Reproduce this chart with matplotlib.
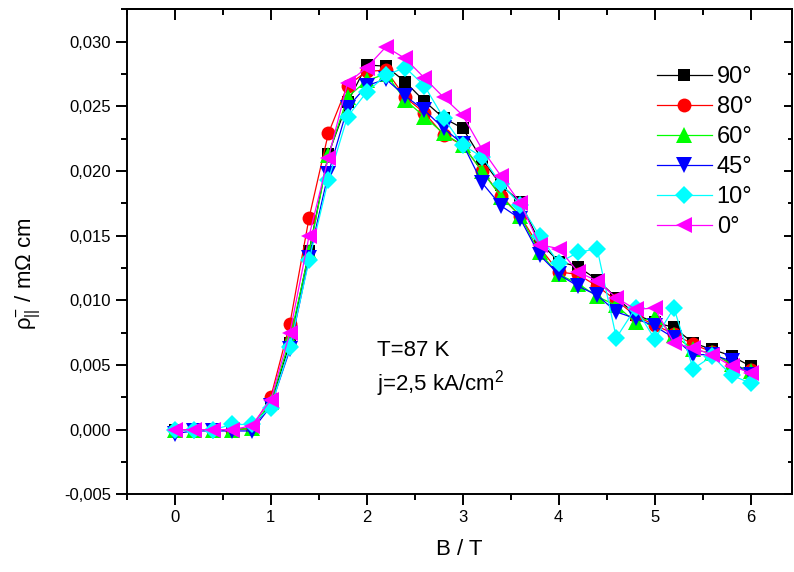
import matplotlib
matplotlib.use("Agg")
import matplotlib.pyplot as plt
from matplotlib.ticker import FuncFormatter, MultipleLocator

plt.rcParams['font.family'] = ['Liberation Sans', 'DejaVu Sans']
plt.rcParams['mathtext.fontset'] = 'custom'
plt.rcParams['mathtext.rm'] = 'Liberation Sans'
plt.rcParams['mathtext.it'] = 'Liberation Sans:italic'

B = [0.0, 0.2, 0.4, 0.6, 0.8, 1.0, 1.2, 1.4, 1.6, 1.8, 2.0, 2.2, 2.4, 2.6, 2.8, 3.0,
     3.2, 3.4, 3.6, 3.8, 4.0, 4.2, 4.4, 4.6, 4.8, 5.0, 5.2, 5.4, 5.6, 5.8, 6.0]

rho_90 = [0.0, 0.0, 0.0, 0.0, 0.0001, 0.0020, 0.0067, 0.0138, 0.0213, 0.0253, 0.0282,
          0.0281, 0.0269, 0.0254, 0.0241, 0.0233, 0.0209, 0.0189, 0.0176, 0.0145, 0.0130,
          0.0126, 0.0116, 0.0102, 0.0089, 0.0083, 0.0079, 0.0067, 0.0062, 0.0057, 0.0049]
rho_80 = [0.0, 0.0, 0.0, 0.0, 0.0001, 0.0025, 0.0082, 0.0164, 0.0229, 0.0266, 0.0277,
          0.0278, 0.0257, 0.0245, 0.0228, 0.0220, 0.0200, 0.0181, 0.0165, 0.0141, 0.0122,
          0.0120, 0.0111, 0.0100, 0.0088, 0.0081, 0.0074, 0.0066, 0.0060, 0.0050, 0.0046]
rho_60 = [0.0, 0.0, 0.0, 0.0, 0.0001, 0.0021, 0.0070, 0.0137, 0.0212, 0.0257, 0.0270,
          0.0275, 0.0255, 0.0242, 0.0229, 0.0220, 0.0200, 0.0180, 0.0165, 0.0137, 0.0120,
          0.0113, 0.0103, 0.0096, 0.0083, 0.0087, 0.0073, 0.0062, 0.0059, 0.0051, 0.0045]
rho_45 = [-0.0003, -0.0001, -0.0001, -0.0001, -0.0001, 0.0018, 0.0062, 0.0133, 0.0198, 0.0249, 0.0266,
          0.0271, 0.0258, 0.0247, 0.0233, 0.0221, 0.0191, 0.0173, 0.0163, 0.0135, 0.0120,
          0.0111, 0.0104, 0.0091, 0.0086, 0.0080, 0.0071, 0.0058, 0.0058, 0.0053, 0.0042]
rho_10 = [0.0, 0.0, 0.0, 0.0004, 0.0004, 0.0017, 0.0064, 0.0131, 0.0193, 0.0242, 0.0261,
          0.0274, 0.0280, 0.0266, 0.0241, 0.0220, 0.0211, 0.0190, 0.0174, 0.0150, 0.0129,
          0.0137, 0.0140, 0.0071, 0.0094, 0.0070, 0.0094, 0.0047, 0.0057, 0.0042, 0.0036]
rho_0 = [0.0, 0.0, 0.0, 0.0, 0.0003, 0.0023, 0.0075, 0.0150, 0.0210, 0.0268, 0.0280,
         0.0296, 0.0287, 0.0272, 0.0257, 0.0243, 0.0217, 0.0196, 0.0175, 0.0143, 0.0140,
         0.0122, 0.0115, 0.0102, 0.0093, 0.0094, 0.0067, 0.0063, 0.0058, 0.0049, 0.0044]

labels = ['90°', '80°', '60°', '45°', '10°', '0°']
series = [rho_90, rho_80, rho_60, rho_45, rho_10, rho_0]
colors = ['#000000', '#ff0000', '#00ff00', '#0000ff', '#00ffff', '#ff00ff']
markers = ['s', 'o', '^', 'v', 'D', '<']
msizes = [9, 10, 11.5, 11.5, 8.8, 11.5]

fig = plt.figure(figsize=(7.94, 5.72), dpi=100)
ax = fig.add_axes([0.1596, 0.1358, 0.8379, 0.8479])

for y, lab, c, m, ms in zip(series, labels, colors, markers, msizes):
    ax.plot(B, y, color=c, marker=m, markersize=ms, markeredgewidth=0,
            linewidth=0.9, label=lab)

ax.set_xlim(-0.5, 6.43)
ax.set_ylim(-0.005, 0.0325)

ax.xaxis.set_major_locator(MultipleLocator(1))
ax.xaxis.set_minor_locator(MultipleLocator(0.5))
ax.yaxis.set_major_locator(MultipleLocator(0.005))
ax.yaxis.set_minor_locator(MultipleLocator(0.0025))

ax.xaxis.set_major_formatter(FuncFormatter(lambda v, p: f"{v:.0f}"))
ax.yaxis.set_major_formatter(FuncFormatter(lambda v, p: f"{v:.3f}".replace('.', ',').replace('-0,000', '0,000')))

ax.tick_params(axis='both', which='major', labelsize=12, width=1.4, length=8, direction='out')
ax.tick_params(axis='both', which='minor', width=1.4, length=4, direction='out')
ax.tick_params(top=False, right=False)

secx = ax.secondary_xaxis('top')
secx.xaxis.set_major_locator(MultipleLocator(1))
secx.xaxis.set_minor_locator(MultipleLocator(0.5))
secx.tick_params(which='major', direction='in', length=8, width=1.4, labeltop=False)
secx.tick_params(which='minor', direction='in', length=4, width=1.4)
secy = ax.secondary_yaxis('right')
secy.yaxis.set_major_locator(MultipleLocator(0.005))
secy.yaxis.set_minor_locator(MultipleLocator(0.0025))
secy.tick_params(which='major', direction='in', length=6, width=1.4, labelright=False)
secy.tick_params(which='minor', direction='in', length=3, width=1.4)
for s in list(ax.spines.values()) + list(secx.spines.values()) + list(secy.spines.values()):
    s.set_linewidth(1.4)

ax.set_xlabel('B / T', fontsize=16, labelpad=10)
ax.set_ylabel(r'$\mathregular{ρ^{-}_{||}}$ / mΩ cm', fontsize=16)
ax.yaxis.set_label_coords(-0.128, 0.454)

ax.text(2.11, 0.0061, 'T=87 K', fontsize=16, va='center', ha='left')
ax.text(2.11, 0.00356, r'j=2,5 kA/cm$^{\mathregular{2}}$', fontsize=16, va='center', ha='left')

ax.legend(loc='upper left', bbox_to_anchor=(0.797, 0.883), frameon=False,
          fontsize=17, handlelength=2.33, handletextpad=0.2, labelspacing=0.34,
          borderaxespad=0, borderpad=0)

fig.savefig('out.png', dpi=100)
